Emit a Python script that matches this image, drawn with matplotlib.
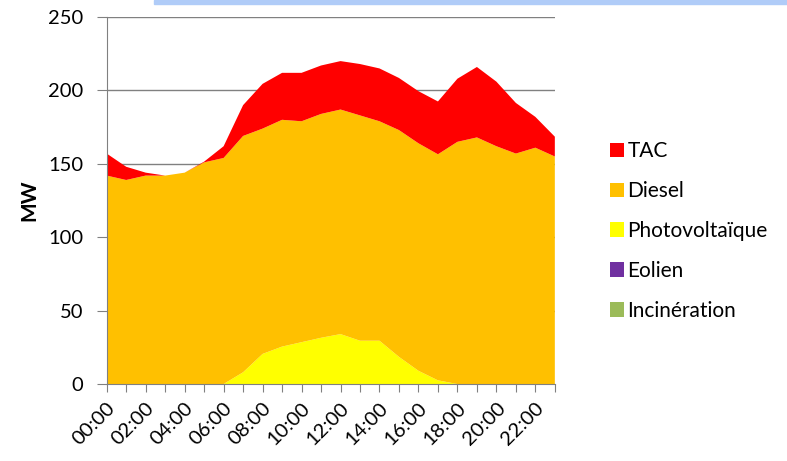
"""Production électrique horaire par filière (aire empilée)"""
import matplotlib
import matplotlib.pyplot as plt
import numpy as np
from matplotlib.patches import Rectangle

matplotlib.use('Agg')
plt.rcParams['font.family'] = ['Lato', 'DejaVu Sans']

hours = ['%02d:00' % h for h in range(24)]

# MW par filière
incineration = [0] * 24
eolien = [0] * 24
photovoltaique = [0, 0, 0, 0, 0, 0, 0, 8, 20.5, 25.5, 28.5, 31.5,
                  34, 29.5, 29.5, 18.5, 9, 2.5, 0, 0, 0, 0, 0, 0]
diesel = [142, 139, 142, 142, 144, 151, 154, 161, 153.5, 154.5, 150.5, 152.5,
          153, 153.5, 149.5, 154.5, 155, 154, 165, 168, 162, 157, 161, 155]
tac = [15, 9, 2, 0, 0, 0.5, 8, 21, 30.5, 32, 33, 33,
       33, 35, 36, 35.5, 35.5, 36, 43, 48, 44, 34.5, 21, 13.5]

labels = ['Incinération', 'Eolien', 'Photovoltaïque', 'Diesel', 'TAC']
colors = ['#9BBB59', '#7030A0', '#FFFF00', '#FFC000', '#FF0000']

fig = plt.figure(figsize=(7.87, 4.61), dpi=100)
ax = fig.add_axes([0.1356, 0.167, 0.5694, 0.796])

x = np.arange(len(hours))
polys = ax.stackplot(x, incineration, eolien, photovoltaique, diesel, tac,
                     colors=colors, labels=labels, linewidth=0)

ax.set_xlim(0, len(hours) - 1)
ax.set_ylim(0, 250)
ax.set_yticks(range(0, 251, 50))
ax.yaxis.grid(True, color='#808080', linewidth=1)
ax.set_axisbelow(True)

ax.set_xticks(x)
ax.set_xticklabels([h if i % 2 == 0 else '' for i, h in enumerate(hours)],
                   rotation=45, ha='right', rotation_mode='anchor')
ax.tick_params(axis='x', direction='out', length=6, color='#808080',
               labelsize=14.5, pad=5)
ax.tick_params(axis='y', direction='out', length=7, color='#808080',
               labelsize=14.5, pad=10)

for side in ['top', 'right']:
    ax.spines[side].set_visible(False)
for side in ['left', 'bottom']:
    ax.spines[side].set_color('#808080')

ax.set_ylabel('MW', fontsize=15, fontweight='bold', labelpad=6)

# légende à droite, ordre inversé
handles = polys[::-1]
fig.legend(handles, labels[::-1], loc='upper left',
           bbox_to_anchor=(0.751, 0.734), frameon=False, fontsize=15,
           handlelength=0.7, handleheight=0.7, handletextpad=0.15,
           labelspacing=0.95)

# bandeau bleu en haut
fig.patches.append(Rectangle((154 / 787, 1 - 4 / 461), 1, 4 / 461,
                             transform=fig.transFigure, color='#B0CCF8',
                             zorder=0))

fig.savefig('out.png', dpi=100)
